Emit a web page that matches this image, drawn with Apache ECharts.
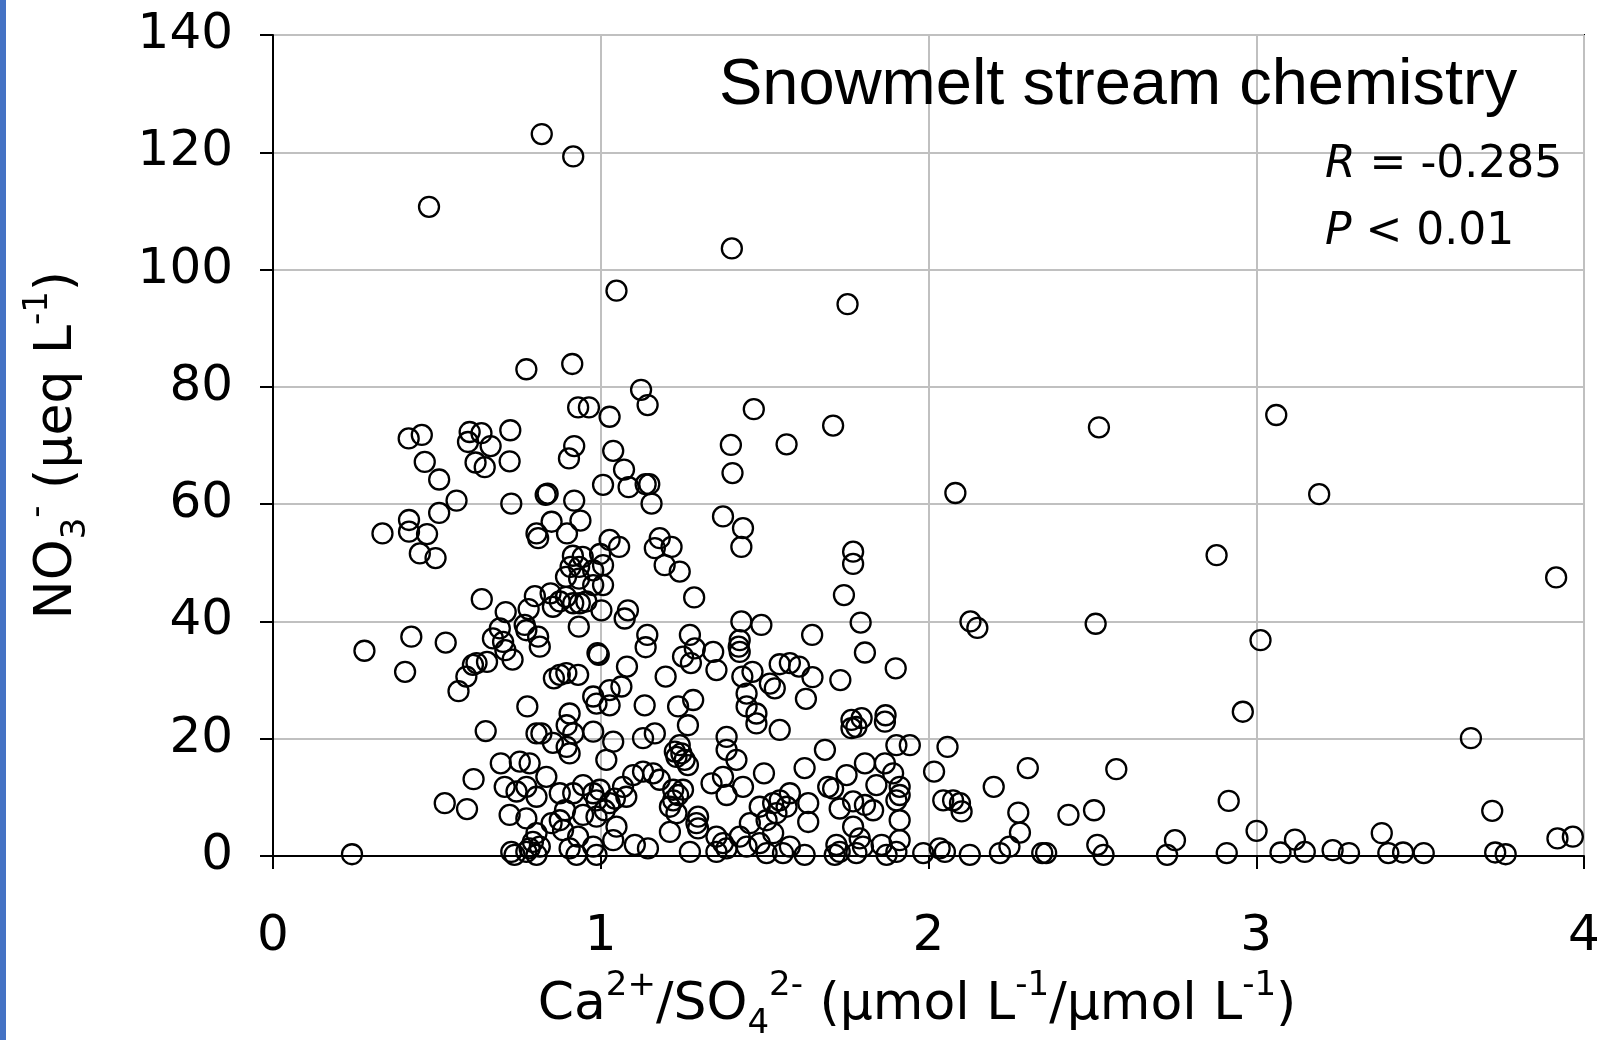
<!DOCTYPE html>
<html>
<head>
<meta charset="utf-8">
<script src="https://cdn.jsdelivr.net/npm/echarts@6/dist/echarts.min.js"></script>
<style>
  html, body { margin: 0; padding: 0; background: #ffffff; }
  #chart { width: 1603px; height: 1040px; }
</style>
</head>
<body>
<div id="chart"></div>
<script>
// Ca2+/SO4 2- molar ratio of each snowmelt stream sample
const caSo4Ratio = [
  0.820, 0.916, 0.476, 1.400, 1.048, 1.753, 0.913, 0.773, 2.520, 3.061, 3.192, 2.879, 3.915, 2.510, 3.013, 1.709, 2.082, 1.770, 1.770,
  0.414, 0.454, 0.463, 0.507, 0.600, 0.636, 0.595, 0.664, 0.618, 0.646, 0.724, 0.722, 0.560, 0.507, 0.727, 0.832, 0.838, 0.415, 0.334, 0.415, 0.470, 0.448, 0.496, 0.804, 0.809, 0.850,
  1.123, 1.143, 0.931, 0.964, 1.027, 1.467, 0.919, 0.903, 1.038, 1.397, 1.567, 1.402, 1.071, 1.007, 1.085, 1.137, 1.148, 1.155, 0.919, 0.938, 0.897, 1.373, 1.434, 1.429, 1.027, 1.056, 1.180, 1.216, 1.165, 0.915, 0.945, 0.998,
  0.637, 0.710, 0.799, 0.780, 0.847, 0.854, 0.875, 0.692, 0.671, 0.768, 0.773, 0.809, 0.814, 0.702, 0.709, 0.731, 0.422, 0.527, 0.279, 0.403, 0.653, 0.621, 0.610, 0.590, 0.566, 0.776, 0.857, 0.875,
  0.908, 0.934, 0.977, 1.007, 0.894, 0.934, 0.977, 1.007, 0.894, 0.916, 0.936, 0.956, 1.002, 1.195, 1.241, 1.285, 1.429, 1.490, 1.424, 1.421, 1.424, 1.546, 1.432, 1.463, 1.445, 1.445, 1.475, 1.516, 1.531, 1.272, 1.287, 1.251, 1.275, 1.343, 1.353, 1.198, 1.142, 1.137, 1.083, 1.073, 0.933, 0.994, 0.990, 1.080, 0.931, 0.895, 1.063, 1.027, 0.977, 0.987, 1.027, 1.134, 1.236, 1.282, 0.905,
  1.742, 1.793, 1.645, 1.806, 1.900, 1.605, 1.646, 1.577, 1.731, 1.626, 1.869, 1.796, 1.765, 2.128, 2.149,
  0.649, 0.804, 0.819, 0.854, 0.695, 0.753, 0.783, 0.612, 0.834, 0.707, 0.743, 0.773, 0.804, 0.524, 0.592, 0.722, 0.773, 0.850, 0.875, 0.804, 0.793, 0.814, 0.783, 0.727, 0.737, 0.773, 0.804, 0.241,
  0.896, 0.916, 0.896, 0.905, 0.977, 1.038, 1.017, 1.129, 1.165, 1.266, 1.241, 1.226, 1.246, 1.231, 1.256, 1.266, 1.384, 1.384, 1.414, 1.475, 1.546, 1.498, 1.129, 1.099, 1.160, 1.180, 1.068, 1.078, 1.338, 1.373, 1.384, 1.434, 1.221, 1.236, 1.251, 1.221, 1.211, 1.231, 1.297, 1.292, 1.297, 1.211, 0.875, 0.916, 0.946, 0.977, 0.987, 0.997, 0.891, 0.946, 0.987, 1.012, 1.048, 0.931, 0.905, 1.038, 1.104, 1.144, 1.272, 0.987, 0.926, 1.353, 1.373, 1.384, 1.424, 1.445, 1.353, 1.485, 1.506, 1.526, 1.546, 1.567, 1.536, 1.455, 1.526, 1.485, 1.506, 1.556, 1.027, 1.043, 0.885, 0.977,
  1.780, 1.765, 1.867, 1.902, 1.943, 2.058, 1.684, 1.622, 1.806, 1.867, 1.892, 1.750, 2.017, 2.199, 1.694, 1.709, 1.841, 1.912, 1.912, 1.902, 1.770, 1.806, 1.831, 1.729, 1.633, 2.045, 2.075, 2.096, 2.101, 1.633, 1.912, 1.770, 1.577, 1.622, 1.719, 1.729, 1.714, 1.790, 1.800, 1.780, 1.857, 1.872, 1.912, 1.902, 1.984, 2.034, 2.050, 2.126, 1.577,
  2.959, 3.655, 2.303, 2.573, 2.916, 2.274, 2.279, 2.427, 2.505, 3.720, 3.001, 3.383, 2.752, 3.118, 3.148, 3.919, 3.966, 2.247, 2.218, 2.359, 2.347, 2.515, 2.534, 2.728, 2.910, 3.074, 3.233, 3.283, 3.403, 3.448, 3.511, 3.729, 3.761
];

// NO3- concentration of the same samples (µeq L-1)
const no3 = [
  123.1, 119.3, 110.7, 103.6, 96.4, 94.1, 83.9, 83.0, 73.1, 75.2, 61.7, 51.3, 47.5, 39.6, 36.8, 73.4, 61.9, 51.9, 49.8,
  71.2, 71.8, 67.2, 64.2, 72.3, 72.1, 70.6, 69.9, 67.1, 66.3, 72.6, 67.3, 60.6, 58.5, 60.1, 61.6, 61.8, 57.3, 55.0, 55.3, 54.9, 51.6, 50.8, 55.0, 54.2, 57.0,
  79.5, 76.9, 76.5, 76.5, 74.9, 76.2, 69.9, 67.8, 69.1, 70.1, 70.2, 65.3, 65.9, 63.3, 62.9, 63.4, 63.4, 60.1, 60.6, 57.2, 55.0, 57.9, 55.9, 52.7, 53.9, 52.7, 54.2, 52.7, 52.5, 51.2, 51.0, 51.5,
  43.8, 41.6, 44.3, 42.1, 44.8, 42.5, 43.4, 38.8, 37.1, 39.4, 38.5, 37.4, 35.7, 36.5, 35.1, 33.5, 37.4, 36.4, 35.0, 31.4, 33.1, 32.9, 32.6, 30.6, 28.1, 25.5, 30.3, 30.9,
  49.3, 49.3, 48.7, 49.6, 47.6, 47.3, 46.2, 46.2, 44.2, 43.1, 43.1, 43.4, 41.9, 49.6, 48.5, 44.1, 40.0, 39.4, 36.8, 35.7, 34.8, 32.7, 30.6, 31.4, 27.7, 25.5, 24.3, 29.4, 28.6, 37.7, 35.4, 34.0, 32.9, 34.8, 31.7, 30.6, 37.7, 35.6, 41.9, 40.5, 39.1, 34.3, 34.6, 32.3, 30.9, 31.2, 28.9, 28.3, 27.2, 26.0, 25.7, 25.7, 25.5, 26.6, 24.3,
  44.5, 39.8, 37.7, 34.7, 32.0, 32.3, 30.5, 32.9, 30.0, 26.8, 24.0, 23.5, 23.2, 40.0, 38.9,
  21.3, 20.9, 20.9, 19.3, 15.8, 16.1, 15.8, 13.1, 13.5, 11.8, 11.0, 11.8, 10.1, 9.0, 8.0, 7.0, 6.4, 5.6, 6.1, 3.9, 2.4, 1.6, 1.3, 0.7, 0.2, 0.7, 0.2, 0.3,
  22.3, 20.9, 18.6, 17.5, 21.2, 19.5, 16.4, 20.1, 20.9, 22.3, 18.9, 17.8, 17.5, 16.9, 16.4, 15.5, 20.3, 18.1, 16.4, 22.6, 21.5, 14.1, 14.4, 13.8, 14.1, 13.0, 11.8, 10.1, 12.4, 13.5, 10.4, 11.8, 11.3, 10.4, 11.3, 9.5, 8.4, 7.3, 6.7, 5.6, 4.7, 4.1, 10.7, 10.7, 12.1, 10.7, 9.5, 11.3, 7.8, 7.0, 6.7, 7.8, 5.0, 3.3, 1.3, 2.7, 1.9, 1.3, 0.7, 0.2, 0.2, 3.3, 2.2, 1.3, 3.3, 1.6, 0.7, 8.4, 6.1, 9.0, 9.5, 8.4, 7.3, 5.6, 3.9, 2.2, 0.5, 0.5, 9.0, 9.8, 4.4, 1.6,
  22.0, 21.8, 22.9, 18.9, 18.9, 18.6, 18.1, 15.0, 15.8, 15.8, 14.1, 13.8, 14.4, 11.8, 11.8, 11.5, 12.1, 11.8, 10.4, 9.5, 9.3, 8.7, 7.8, 8.1, 9.0, 9.5, 9.5, 9.0, 7.6, 5.8, 6.1, 5.0, 1.6, 0.2, 1.9, 0.7, 0.2, 3.0, 1.6, 0.5, 1.9, 0.2, 2.7, 0.7, 0.5, 1.3, 0.7, 0.2, 10.7,
  24.6, 20.1, 15.0, 14.8, 9.4, 7.4, 4.0, 7.0, 7.8, 7.7, 4.3, 3.9, 2.7, 2.8, 0.7, 3.0, 3.3, 1.6, 0.5, 0.5, 0.5, 1.9, 0.2, 0.2, 0.5, 0.6, 1.0, 0.5, 0.5, 0.6, 0.5, 0.6, 0.3
];

// Axis ticks
const xTicks = [0, 1, 2, 3, 4];
const yTicks = [0, 20, 40, 60, 80, 100, 120, 140];

// Panel annotations
const panelTitle = 'Snowmelt stream chemistry';
const corrR = '-0.285';
const corrP = '0.01';

const points = caSo4Ratio.map((x, i) => [x, no3[i]]);

const tickFont = 'DejaVu Sans';
const titleFont = 'Liberation Sans';

// rich styles for super/subscripts in the axis titles
const axisRich = {
  m:   { fontFamily: tickFont, fontSize: 52, lineHeight: 72, fill: '#000' },
  sup: { fontFamily: tickFont, fontSize: 34, lineHeight: 41, verticalAlign: 'top', fill: '#000' },
  sub: { fontFamily: tickFont, fontSize: 34, lineHeight: 25, verticalAlign: 'bottom', fill: '#000' }
};

const chart = echarts.init(document.getElementById('chart'), null, { renderer: 'canvas' });

chart.setOption({
  backgroundColor: '#ffffff',
  animation: false,
  grid: {
    left: 273, right: 19, top: 35, bottom: 184,
    show: true, borderColor: '#000', borderWidth: 2, backgroundColor: 'transparent'
  },
  xAxis: {
    type: 'value',
    min: xTicks[0], max: xTicks[xTicks.length - 1], interval: xTicks[1] - xTicks[0],
    axisLine: { show: true, onZero: false, lineStyle: { color: '#000', width: 2 } },
    axisTick: { show: true, inside: false, length: 13, lineStyle: { color: '#000', width: 2 } },
    axisLabel: { fontFamily: tickFont, fontSize: 50, color: '#000', margin: 56 },
    splitLine: { show: true, lineStyle: { color: '#c0c0c0', width: 2 } }
  },
  yAxis: {
    type: 'value',
    min: yTicks[0], max: yTicks[yTicks.length - 1], interval: yTicks[1] - yTicks[0],
    axisLine: { show: true, onZero: false, lineStyle: { color: '#000', width: 2 } },
    axisTick: { show: true, inside: false, length: 13, lineStyle: { color: '#000', width: 2 } },
    axisLabel: { fontFamily: tickFont, fontSize: 50, color: '#000', margin: 40, padding: [7, 0, 0, 0] },
    splitLine: { show: true, lineStyle: { color: '#c0c0c0', width: 2 } }
  },
  series: [{
    type: 'scatter',
    data: points,
    symbol: 'circle',
    symbolSize: 20,
    clip: false,
    itemStyle: { color: 'rgba(0,0,0,0)', borderColor: '#000', borderWidth: 2.3, opacity: 1 },
    emphasis: { disabled: true },
    z: 5
  }],
  graphic: [
    // slide edge strip on the left
    { type: 'rect', left: 0, top: 0, shape: { width: 6, height: 1040 }, style: { fill: '#4472c4' }, z: 10 },
    {
      type: 'text', x: 719, y: 86, z: 10,
      style: { text: panelTitle, fontFamily: titleFont, fontSize: 65, fill: '#000', align: 'left', verticalAlign: 'middle' }
    },
    {
      type: 'text', x: 1325, y: 166, z: 10,
      style: {
        text: '{i|R}{n| = ' + corrR + '}', align: 'left', verticalAlign: 'middle',
        rich: {
          i: { fontFamily: tickFont, fontSize: 44, fontStyle: 'italic', fill: '#000' },
          n: { fontFamily: tickFont, fontSize: 44, fill: '#000' }
        }
      }
    },
    {
      type: 'text', x: 1325, y: 233, z: 10,
      style: {
        text: '{i|P}{n| < ' + corrP + '}', align: 'left', verticalAlign: 'middle',
        rich: {
          i: { fontFamily: tickFont, fontSize: 44, fontStyle: 'italic', fill: '#000' },
          n: { fontFamily: tickFont, fontSize: 44, fill: '#000' }
        }
      }
    },
    {
      // x axis title: Ca2+/SO4 2- (µmol L-1/µmol L-1)
      type: 'text', x: 917, y: 1005, z: 10,
      style: {
        text: '{m|Ca}{sup|2+}{m|/SO}{sub|4}{sup|2-}{m| (μmol L}{sup|-1}{m|/μmol L}{sup|-1}{m|)}',
        align: 'center', verticalAlign: 'middle', rich: axisRich
      }
    },
    {
      // y axis title: NO3- (µeq L-1), reading bottom to top
      type: 'text', x: 57, y: 445, rotation: Math.PI / 2, z: 10,
      style: {
        text: '{m|NO}{sub|3}{sup|-}{m| (μeq L}{sup|-1}{m|)}',
        align: 'center', verticalAlign: 'middle', rich: axisRich
      }
    }
  ]
});
</script>
</body>
</html>
